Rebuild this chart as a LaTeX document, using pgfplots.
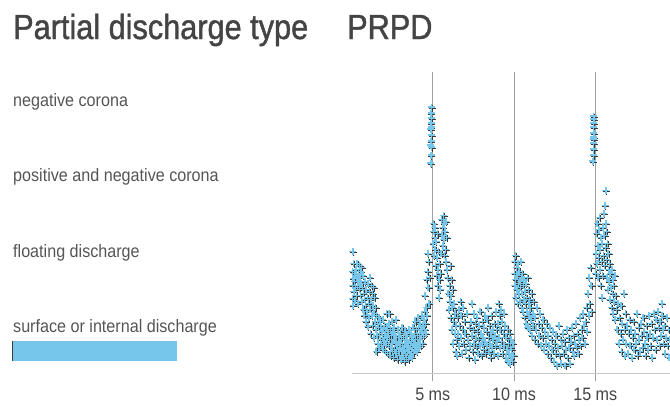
\documentclass[border=0pt]{standalone}
\usepackage{fontspec}
\setmainfont{Liberation Sans}
\usepackage{pgfplots}
\usepackage{pgfplotstable}
\pgfplotsset{compat=1.18}
\newfontfamily\titlefont[FakeStretch=0.88, FakeBold=1.2]{Liberation Sans}
\newfontfamily\labfont[FakeStretch=0.9]{Liberation Sans}
\definecolor{pdblue}{HTML}{76C6EB}
\definecolor{titlegray}{HTML}{444444}
\definecolor{labgray}{HTML}{555555}
\definecolor{markdark}{HTML}{3A3A3A}

\pgfplotstableread[row sep=\\]{
x y\\
0.05 75\\ 0.05 88\\ 0.05 102\\ 0.08 122\\ 0.1 95\\ 0.1 68\\ 0.12 110\\ 0.15 82\\ 0.18 92\\ 0.2 100\\ 0.22 73\\ 0.25 86\\ 0.28 104\\ 0.3 78\\ 0.32 96\\ 0.35 110\\ 0.38 88\\ 0.4 70\\ 0.42 100\\ 0.45 92\\ 0.48 108\\ 0.5 84\\ 0.52 96\\ 0.55 78\\ 0.58 102\\ 0.6 90\\ 0.62 106\\ 0.65 72\\ 0.68 86\\ 0.7 98\\ 0.72 64\\ 0.75 80\\ 0.78 58\\ 0.8 74\\ 0.82 92\\ 0.85 68\\ 0.88 52\\ 0.9 84\\ 0.95 62\\ 0.98 76\\
1.0 47\\ 1.02 90\\ 1.05 70\\ 1.08 56\\ 1.1 82\\ 1.12 96\\ 1.15 64\\ 1.18 40\\ 1.2 74\\ 1.22 88\\ 1.25 58\\ 1.28 80\\ 1.3 48\\ 1.32 68\\ 1.35 86\\ 1.38 36\\ 1.4 60\\ 1.42 76\\ 1.45 52\\ 1.48 66\\ 1.5 44\\ 1.52 22\\ 1.55 58\\ 1.58 38\\ 1.6 50\\ 1.62 30\\ 1.65 46\\ 1.68 56\\ 1.7 26\\ 1.72 40\\ 1.75 52\\ 1.78 34\\ 1.8 46\\ 1.85 28\\ 1.88 42\\ 1.9 36\\ 1.92 54\\ 1.95 24\\ 1.98 44\\
2.0 32\\ 2.02 48\\ 2.05 38\\ 2.08 22\\ 2.1 42\\ 2.12 30\\ 2.15 60\\ 2.18 36\\ 2.2 46\\ 2.22 20\\ 2.25 40\\ 2.28 28\\ 2.3 50\\ 2.32 60\\ 2.35 34\\ 2.38 18\\ 2.4 44\\ 2.42 26\\ 2.45 38\\ 2.48 52\\ 2.5 30\\ 2.52 22\\ 2.55 42\\ 2.58 16\\ 2.6 34\\ 2.62 46\\ 2.65 24\\ 2.68 38\\ 2.7 30\\ 2.72 54\\ 2.75 20\\ 2.78 36\\ 2.8 28\\ 2.82 14\\ 2.85 44\\ 2.88 32\\ 2.9 22\\ 2.92 38\\ 2.95 18\\ 2.98 30\\
3.0 26\\ 3.02 40\\ 3.05 14\\ 3.08 34\\ 3.1 22\\ 3.12 46\\ 3.15 28\\ 3.18 18\\ 3.2 36\\ 3.22 24\\ 3.25 12\\ 3.28 30\\ 3.3 42\\ 3.32 20\\ 3.35 34\\ 3.38 16\\ 3.4 26\\ 3.42 38\\ 3.45 22\\ 3.48 30\\ 3.5 14\\ 3.52 44\\ 3.55 24\\ 3.58 34\\ 3.6 18\\ 3.62 28\\ 3.65 40\\ 3.68 22\\ 3.7 32\\ 3.72 16\\ 3.75 26\\ 3.78 36\\ 3.8 46\\ 3.82 20\\ 3.85 30\\ 3.88 40\\ 3.9 24\\ 3.92 52\\ 3.95 34\\ 3.98 28\\
4.0 44\\ 4.02 22\\ 4.05 38\\ 4.08 56\\ 4.1 30\\ 4.12 46\\ 4.15 26\\ 4.18 40\\ 4.2 34\\ 4.22 50\\ 4.25 28\\ 4.28 44\\ 4.3 36\\ 4.32 58\\ 4.35 42\\ 4.38 30\\ 4.4 48\\ 4.42 38\\ 4.45 54\\ 4.48 62\\ 4.5 44\\ 4.52 78\\ 4.55 50\\ 4.58 40\\ 4.6 66\\ 4.62 94\\ 4.65 58\\ 4.68 102\\ 4.7 120\\ 4.72 86\\ 4.75 112\\ 4.78 70\\ 4.8 96\\
4.88 210\\ 4.9 218\\ 4.92 226\\ 4.9 232\\ 4.92 238\\ 4.88 244\\ 4.9 250\\ 4.92 255\\ 4.9 260\\ 4.92 266\\ 4.9 246\\ 4.88 228\\
5.02 130\\ 5.05 142\\ 5.05 150\\ 5.08 118\\ 5.1 136\\ 5.12 146\\ 5.15 124\\ 5.18 108\\ 5.2 132\\ 5.22 98\\ 5.25 116\\ 5.28 140\\ 5.3 88\\ 5.32 104\\ 5.35 122\\ 5.38 76\\ 5.4 94\\ 5.42 110\\ 5.45 84\\ 5.48 100\\ 5.52 120\\ 5.55 154\\ 5.58 138\\ 5.6 146\\ 5.62 128\\ 5.65 158\\ 5.68 134\\ 5.7 150\\ 5.72 118\\ 5.75 142\\ 5.78 124\\ 5.8 152\\ 5.82 112\\ 5.85 136\\ 5.88 104\\ 5.9 96\\ 5.95 80\\
6.0 64\\ 6.02 88\\ 6.05 72\\ 6.08 108\\ 6.1 56\\ 6.12 78\\ 6.15 94\\ 6.18 44\\ 6.2 66\\ 6.22 84\\ 6.25 30\\ 6.28 52\\ 6.3 70\\ 6.35 40\\ 6.38 60\\ 6.4 22\\ 6.42 48\\ 6.45 34\\ 6.5 18\\ 6.52 56\\ 6.55 40\\ 6.6 64\\ 6.62 28\\ 6.65 48\\ 6.7 72\\ 6.72 36\\ 6.75 58\\ 6.8 20\\ 6.82 44\\ 6.85 66\\ 6.9 30\\ 6.95 52\\
7.0 40\\ 7.05 24\\ 7.1 60\\ 7.15 34\\ 7.2 16\\ 7.25 46\\ 7.3 28\\ 7.35 52\\ 7.4 70\\ 7.42 38\\ 7.45 22\\ 7.5 44\\ 7.52 60\\ 7.55 30\\ 7.6 14\\ 7.62 50\\ 7.65 36\\ 7.7 26\\ 7.72 56\\ 7.75 42\\ 7.8 20\\ 7.82 34\\ 7.85 48\\ 7.9 28\\ 7.92 62\\ 7.95 40\\
8.0 18\\ 8.02 30\\ 8.05 52\\ 8.1 36\\ 8.12 24\\ 8.15 46\\ 8.2 58\\ 8.22 32\\ 8.25 20\\ 8.3 42\\ 8.32 28\\ 8.35 54\\ 8.4 66\\ 8.42 36\\ 8.45 22\\ 8.5 48\\ 8.52 30\\ 8.55 16\\ 8.6 40\\ 8.62 58\\ 8.65 26\\ 8.7 44\\ 8.72 34\\ 8.75 20\\ 8.8 50\\ 8.82 38\\ 8.85 28\\ 8.9 62\\ 8.92 44\\ 8.95 32\\
9.0 18\\ 9.02 50\\ 9.05 70\\ 9.08 36\\ 9.1 58\\ 9.12 26\\ 9.15 44\\ 9.2 64\\ 9.22 32\\ 9.25 52\\ 9.3 20\\ 9.35 40\\ 9.38 60\\ 9.4 28\\ 9.45 48\\ 9.5 16\\ 9.52 36\\ 9.55 24\\ 9.6 44\\ 9.62 12\\ 9.65 30\\ 9.7 20\\ 9.72 40\\ 9.75 10\\ 9.78 26\\ 9.8 34\\ 9.82 16\\ 9.85 24\\ 9.9 12\\ 9.92 30\\ 9.95 18\\
10.02 100\\ 10.02 112\\ 10.05 88\\ 10.08 118\\ 10.1 94\\ 10.12 76\\ 10.15 106\\ 10.18 84\\ 10.2 98\\ 10.22 70\\ 10.25 110\\ 10.28 90\\ 10.3 80\\ 10.32 102\\ 10.35 72\\ 10.38 92\\ 10.4 86\\ 10.42 112\\ 10.45 66\\ 10.48 96\\ 10.5 80\\ 10.52 100\\ 10.55 62\\ 10.58 88\\ 10.6 74\\ 10.62 94\\ 10.65 56\\ 10.68 82\\ 10.7 70\\ 10.72 90\\ 10.75 50\\ 10.78 76\\ 10.8 62\\ 10.82 96\\ 10.85 46\\ 10.88 70\\ 10.9 84\\ 10.92 58\\ 10.95 74\\ 10.98 44\\
11.0 66\\ 11.05 54\\ 11.08 80\\ 11.1 38\\ 11.15 60\\ 11.18 48\\ 11.2 72\\ 11.25 34\\ 11.3 56\\ 11.35 44\\ 11.4 66\\ 11.45 30\\ 11.5 50\\ 11.55 38\\ 11.6 60\\ 11.65 28\\ 11.7 46\\ 11.75 36\\ 11.8 54\\ 11.85 24\\ 11.9 42\\ 11.95 30\\
12.0 50\\ 12.05 20\\ 12.1 38\\ 12.15 28\\ 12.2 46\\ 12.25 16\\ 12.3 34\\ 12.35 24\\ 12.4 42\\ 12.45 12\\ 12.5 30\\ 12.55 20\\ 12.6 38\\ 12.65 8\\ 12.7 26\\ 12.75 48\\ 12.8 18\\ 12.85 34\\ 12.9 10\\ 12.95 28\\
13.0 40\\ 13.05 20\\ 13.1 32\\ 13.15 8\\ 13.2 24\\ 13.25 44\\ 13.3 16\\ 13.35 36\\ 13.4 26\\ 13.45 10\\ 13.5 32\\ 13.55 46\\ 13.6 22\\ 13.65 38\\ 13.7 18\\ 13.75 30\\ 13.8 50\\ 13.85 26\\ 13.9 40\\ 13.95 20\\
14.0 34\\ 14.05 56\\ 14.1 28\\ 14.15 44\\ 14.2 36\\ 14.25 60\\ 14.3 48\\ 14.35 30\\ 14.4 52\\ 14.45 66\\ 14.5 42\\ 14.55 80\\ 14.6 58\\ 14.62 96\\ 14.65 70\\ 14.7 106\\ 14.75 88\\ 14.78 62\\
14.85 212\\ 14.88 218\\ 14.9 224\\ 14.88 230\\ 14.9 236\\ 14.92 240\\ 14.88 246\\ 14.9 250\\ 14.92 254\\ 14.9 257\\ 14.88 234\\
15.02 100\\ 15.05 120\\ 15.08 140\\ 15.1 110\\ 15.12 150\\ 15.15 128\\ 15.18 96\\ 15.2 116\\ 15.22 144\\ 15.25 156\\ 15.28 104\\ 15.3 124\\ 15.32 88\\ 15.35 136\\ 15.38 112\\ 15.4 76\\ 15.42 130\\ 15.45 98\\ 15.48 146\\ 15.5 118\\ 15.52 160\\ 15.55 138\\ 15.58 108\\ 15.6 168\\ 15.62 126\\ 15.65 183\\ 15.65 150\\ 15.68 114\\ 15.7 142\\ 15.72 96\\ 15.75 130\\ 15.78 84\\ 15.8 120\\ 15.82 104\\ 15.85 92\\ 15.88 110\\ 15.9 74\\ 15.92 100\\ 15.95 86\\
16.0 66\\ 16.02 104\\ 16.05 80\\ 16.08 94\\ 16.1 60\\ 16.12 88\\ 16.15 72\\ 16.2 98\\ 16.22 54\\ 16.25 78\\ 16.3 64\\ 16.35 44\\ 16.4 70\\ 16.45 30\\ 16.5 56\\ 16.55 40\\ 16.6 68\\ 16.62 22\\ 16.65 50\\ 16.7 34\\ 16.75 80\\ 16.8 44\\ 16.82 18\\ 16.85 60\\ 16.9 30\\ 16.95 48\\
17.0 20\\ 17.05 40\\ 17.1 54\\ 17.15 28\\ 17.2 44\\ 17.25 16\\ 17.3 36\\ 17.35 52\\ 17.4 24\\ 17.45 40\\ 17.5 30\\ 17.55 60\\ 17.6 18\\ 17.65 46\\ 17.7 34\\ 17.75 22\\ 17.8 50\\ 17.85 38\\ 17.9 26\\ 17.95 56\\
18.0 42\\ 18.05 30\\ 18.1 18\\ 18.15 48\\ 18.2 36\\ 18.25 24\\ 18.3 58\\ 18.35 40\\ 18.4 28\\ 18.45 50\\ 18.5 16\\ 18.55 36\\ 18.6 60\\ 18.65 44\\ 18.7 24\\ 18.75 54\\ 18.8 34\\ 18.85 62\\ 18.9 46\\ 18.95 28\\
19.0 52\\ 19.05 38\\ 19.1 70\\ 19.12 58\\ 19.15 44\\ 19.2 30\\ 19.25 48\\ 19.3 20\\ 19.35 36\\ 19.4 56\\ 19.45 28\\ 19.5 44\\ 19.55 16\\ 19.6 34\\
}\prpd

\begin{document}
\begin{tikzpicture}[x=1bp,y=1bp]
\path[use as bounding box] (0,0) rectangle (670,406);
% titles
\node[anchor=base west, inner sep=0, text=titlegray, font=\titlefont\fontsize{35}{40}\selectfont] at (13,367) {Partial discharge type};
\node[anchor=base west, inner sep=0, text=titlegray, font=\titlefont\fontsize{35}{40}\selectfont] at (347,367) {PRPD};
% category labels
\begin{scope}[every node/.style={anchor=base west, inner sep=0, text=labgray, font=\labfont\fontsize{18}{21}\selectfont}]
\node at (13,299.5) {negative corona};
\node at (13,224.5) {positive and negative corona};
\node at (13,149) {floating discharge};
\node at (13,73.5) {surface or internal discharge};
\end{scope}
% probability bar
\begin{axis}[
  at={(13bp,45bp)}, anchor=south west,
  scale only axis, width=164bp, height=20bp,
  xmin=0, xmax=1, ymin=-0.5, ymax=0.5,
  axis x line=none, axis y line=left,
  y axis line style={-, line width=1.6bp, color=markdark},
  ytick=\empty, xtick=\empty, clip=false,
]
\addplot[xbar, bar width=20bp, fill=pdblue, draw=none] coordinates {(1,0)};
\end{axis}
% PRPD scatter
\begin{axis}[
  at={(351.5bp,32.7bp)}, anchor=south west,
  scale only axis, width=318.5bp, height=301bp,
  xmin=0, xmax=19.6, ymin=0, ymax=301,
  axis x line=bottom, axis y line=none,
  x axis line style={-, color=gray!45, line width=0.8bp},
  xtick={5,10,15}, xticklabels={5 ms,10 ms,15 ms},
  xmajorgrids, grid style={color=gray!75, line width=0.8bp},
  major tick length=8bp, tick align=outside,
  tick style={color=gray!75, line width=0.8bp},
  xticklabel style={font=\labfont\fontsize{18}{21}\selectfont, text=titlegray, inner sep=2bp, yshift=-4bp, anchor=north, text height=13bp, text depth=3bp},
  clip=true,
]
\addplot[only marks, mark=+, mark size=3.5bp, color=markdark, mark options={line width=0.9bp, xshift=0.8bp, yshift=-0.8bp}] table {\prpd};
\addplot[only marks, mark=+, mark size=3.5bp, color=pdblue, mark options={line width=1.6bp}] table {\prpd};
\end{axis}
\end{tikzpicture}
\end{document}
